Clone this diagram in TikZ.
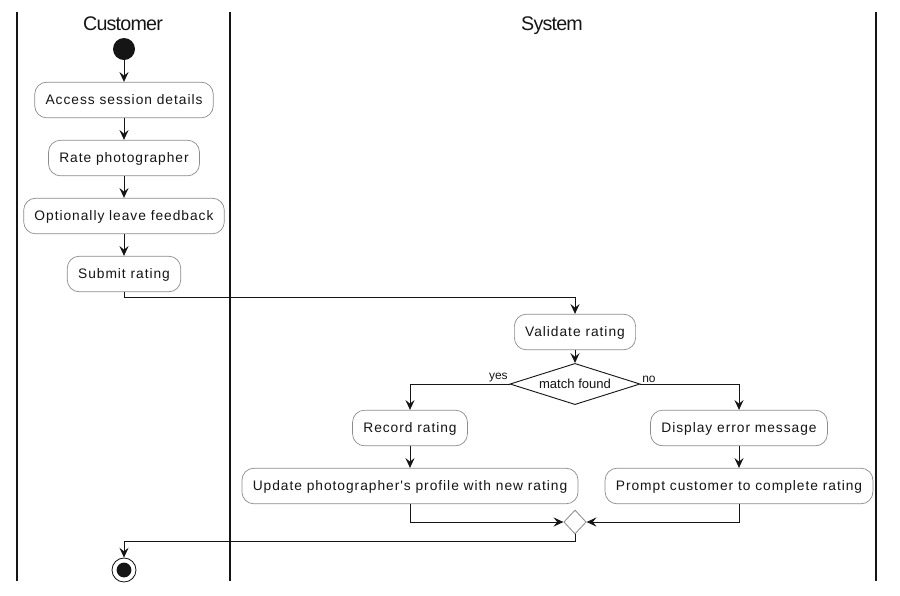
\documentclass[tikz,border=0pt]{standalone}
\usepackage{fontspec}
\setmainfont{Liberation Sans}
\newfontfamily\actfont[LetterSpace=7]{Liberation Sans}
\newfontfamily\headfont[LetterSpace=-4]{Liberation Sans}
\usepackage{tikz}
\usetikzlibrary{shapes.geometric, arrows.meta, positioning, calc}

\definecolor{boxline}{HTML}{8C8C8C}
\definecolor{ink}{HTML}{151515}

\begin{document}
\begin{tikzpicture}[
  x=0.025cm, y=-0.025cm,
  act/.style={draw=boxline, line width=0.5pt, rounded corners=0.3cm, fill=white,
              font=\actfont\fontsize{9.8}{11}\selectfont, text=ink,
              inner xsep=0.27cm, minimum height=0.89cm,
              text height=6.6pt, text depth=0pt},
  lanehead/.style={font=\headfont\fontsize{14}{16}\selectfont, text=ink,
                   text height=10pt, text depth=0pt},
  lane/.style={line width=1.3pt, ink},
  arr/.style={-{Stealth[length=7pt, width=6.5pt, inset=2.6pt]}, line width=0.65pt, ink},
  decide/.style={diamond, aspect=3.2, draw=ink, line width=0.65pt, fill=white,
                 inner sep=0pt, minimum width=3.25cm, minimum height=1.03cm,
                 font=\fontsize{9.3}{11}\selectfont, text=ink},
  mergebox/.style={diamond, draw=boxline, line width=0.6pt, fill=white,
                   inner sep=0pt, minimum width=0.56cm, minimum height=0.6cm},
  startdot/.style={circle, fill=ink, inner sep=0pt, minimum size=0.55cm},
  endring/.style={circle, draw=ink, line width=0.6pt, fill=white, inner sep=0pt,
                  minimum size=0.6cm},
  enddot/.style={circle, fill=ink, inner sep=0pt, minimum size=0.37cm},
  lbl/.style={font=\fontsize{8.5}{9}\selectfont, text=ink, inner sep=1pt}
]
  \useasboundingbox (0,0) rectangle (900,595);

  % Swimlanes
  \draw[lane] (17,12) -- (17,581);
  \draw[lane] (230,12) -- (230,581);
  \draw[lane] (876,12) -- (876,581);
  \node[lanehead] (custhead) at (123,23) {Customer};
  \node[lanehead] (syshead)  at (552,23) {System};

  % Customer lane
  \node[startdot] (start)   at (124,49)  {};
  \node[act]      (access)  at (124,100) {Access session details};
  \node[act]      (rate)    at (124,158) {Rate photographer};
  \node[act]      (feedback) at (124,216) {Optionally leave feedback};
  \node[act]      (submit)  at (124,274) {Submit rating};
  \node[endring]  (stop)    at (124,570) {};
  \node[enddot]   (stopdot) at (stop.center) {};

  % System lane
  \node[act]      (validate) at (575,332) {Validate rating};
  \node[decide]   (match)    at (575,384) {match found};
  \node[act]      (record)   at (410,428) {Record rating};
  \node[act]      (update)   at (410,486) {Update photographer's profile with new rating};
  \node[act]      (error)    at (739,428) {Display error message};
  \node[act]      (prompt)   at (739,486) {Prompt customer to complete rating};
  \node[mergebox] (merge)    at (575,522) {};

  % Customer flow
  \draw[arr] (start) -- (access);
  \draw[arr] (access) -- (rate);
  \draw[arr] (rate) -- (feedback);
  \draw[arr] (feedback) -- (submit);

  % Submit -> Validate
  \draw[arr] (submit.south) -- ++(0,5) -| (validate.north);
  \draw[arr] (validate) -- (match);

  % Branches
  \draw[arr] (match.west) -| node[lbl, pos=0, anchor=south east]{yes} (record.north);
  \draw[arr] (match.east) -| node[lbl, pos=0, anchor=south west]{no} (error.north);
  \draw[arr] (record) -- (update);
  \draw[arr] (error) -- (prompt);

  % Merge and finish
  \draw[arr] (update.south) |- (merge.west);
  \draw[arr] (prompt.south) |- (merge.east);
  \draw[arr] (merge.south) -- ++(0,7) -| (stop.north);

\end{tikzpicture}
\end{document}
